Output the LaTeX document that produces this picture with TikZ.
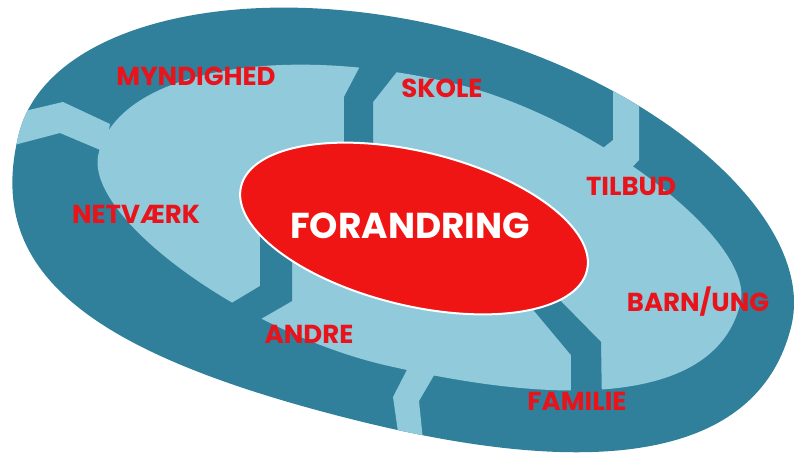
\documentclass[tikz,border=0pt]{standalone}
\usepackage{fontspec}
\setmainfont{Poppins}
\definecolor{ringdark}{HTML}{31809B}
\definecolor{ringlight}{HTML}{90CADB}
\definecolor{core}{HTML}{F01515}
\definecolor{labelred}{HTML}{E8131B}
\begin{document}
\begin{tikzpicture}[x=1pt,y=-1pt,
  lbl/.style={text=labelred, font=\bfseries\fontsize{26}{28}\selectfont, inner sep=0pt, anchor=base},
  corelbl/.style={text=white, font=\bfseries\fontsize{36}{40}\selectfont, inner sep=0pt, anchor=base}]
\useasboundingbox (0,0) rectangle (794,456);
% outer boundary of the ring (local frame of the tilted oval)
\begin{scope}[shift={(403,230)}, rotate=-14]
  \coordinate (oR) at (400,0);      \coordinate (oR1) at (400,129.4);
  \coordinate (oB0) at (264,196);   \coordinate (oB) at (0,196);
  \coordinate (oB1) at (-281.2,196);\coordinate (oL0) at (-396,139.2);
  \coordinate (oL) at (-396,0);     \coordinate (oL1) at (-396,-113.9);
  \coordinate (oT0) at (-217.8,-207);\coordinate (oT) at (0,-207);
  \coordinate (oT1) at (212,-207);  \coordinate (oR0) at (400,-109.7);
\end{scope}
% inner boundary of the ring
\begin{scope}[shift={(418,228)}, rotate=-13]
  \coordinate (mR) at (331,0);      \coordinate (mR1) at (331,91.65);
  \coordinate (mB0) at (215.2,141); \coordinate (mB) at (0,141);
  \coordinate (mB1) at (-147.6,141);\coordinate (mL0) at (-328,63.45);
  \coordinate (mL) at (-328,0);     \coordinate (mL1) at (-328,-83.4);
  \coordinate (mT0) at (-183.7,-149);\coordinate (mT) at (0,-149);
  \coordinate (mT1) at (142.3,-149);\coordinate (mR0) at (331,-64.1);
\end{scope}
\begin{scope}
\clip (oR) .. controls (oR1) and (oB0) .. (oB) .. controls (oB1) and (oL0) .. (oL)
      .. controls (oL1) and (oT0) .. (oT) .. controls (oT1) and (oR0) .. (oR) -- cycle;
\fill[ringdark] (0,0) rectangle (794,456);
\fill[ringlight] (mR) .. controls (mR1) and (mB0) .. (mB) .. controls (mB1) and (mL0) .. (mL)
      .. controls (mL1) and (mT0) .. (mT) .. controls (mT1) and (mR0) .. (mR) -- cycle;
% light gaps through the ring
\fill[ringlight] (-5,118) -- (63,102) -- (110,124) -- (105,152) -- (60,133) -- (-5,150) -- cycle;
\fill[ringlight] (613,50) -- (613,140) -- (598,152) -- (625,175) -- (639,160) -- (639,50) -- cycle;
\fill[ringlight] (412,360) -- (393,397) -- (402,460) -- (425,460) -- (419,401) -- (440,365) -- cycle;
% dark spokes through the light band
\fill[ringdark] (344,160) -- (344,97) -- (366,55) -- (410,55) -- (373,102) -- (373,160) -- cycle;
\fill[ringdark] (260,215) -- (260,286) -- (215,313) -- (240,331) -- (292,301) -- (292,215) -- cycle;
\fill[ringdark] (520,294) -- (571,355) -- (571,405) -- (602,405) -- (601,342) -- (548,288) -- cycle;
\end{scope}
\draw[white, line width=2pt, fill=core, rotate around={-13.7:(414,228.5)}] (414,228.5) ellipse [x radius=178pt, y radius=77pt];
\node[corelbl] (forandring) at (410,238) {FORANDRING};
\node[lbl] (myndighed) at (196,85) {MYNDIGHED};
\node[lbl] (skole) at (442,97) {SKOLE};
\node[lbl] (tilbud) at (631,195) {TILBUD};
\node[lbl] (netvaerk) at (136,223) {NETVÆRK};
\node[lbl] (andre) at (309,343) {ANDRE};
\node[lbl] (barnung) at (698,311) {BARN/UNG};
\node[lbl] (familie) at (577,410) {FAMILIE};
\end{tikzpicture}
\end{document}
